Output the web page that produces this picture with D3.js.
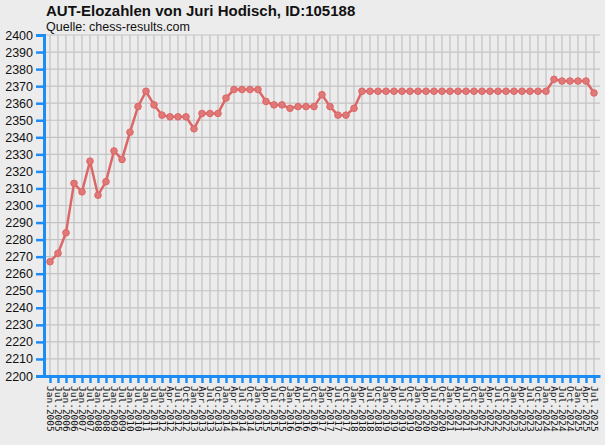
<!DOCTYPE html>
<html>
<head>
<meta charset="utf-8">
<script src="https://cdn.jsdelivr.net/npm/d3@7"></script>
<style>
  body { margin: 0; background: #ececec; }
  svg { display: block; }
</style>
</head>
<body>
<section></section>
<script>
// Monate der Elo-Listen (bis 2011 halbjährlich, dann vierteljährlich)
var monate = ["Jan.2005", "Jul.2005", "Jan.2006", "Jul.2006", "Jan.2007", "Jul.2007",
  "Jan.2008", "Jul.2008", "Jan.2009", "Jul.2009", "Jan.2010", "Jul.2010",
  "Jan.2011", "Jul.2011",
  "Jan.2012", "Apr.2012", "Jul.2012", "Oct.2012",
  "Jan.2013", "Apr.2013", "Jul.2013", "Oct.2013",
  "Jan.2014", "Apr.2014", "Jul.2014", "Oct.2014",
  "Jan.2015", "Apr.2015", "Jul.2015", "Oct.2015",
  "Jan.2016", "Apr.2016", "Jul.2016", "Oct.2016",
  "Jan.2017", "Apr.2017", "Jul.2017", "Oct.2017",
  "Jan.2018", "Apr.2018", "Jul.2018", "Oct.2018",
  "Jan.2019", "Apr.2019", "Jul.2019", "Oct.2019",
  "Jan.2020", "Apr.2020", "Jul.2020", "Oct.2020",
  "Jan.2021", "Apr.2021", "Jul.2021", "Oct.2021",
  "Jan.2022", "Apr.2022", "Jul.2022", "Oct.2022",
  "Jan.2023", "Apr.2023", "Jul.2023", "Oct.2023",
  "Jan.2024", "Apr.2024", "Jul.2024", "Oct.2024",
  "Jan.2025", "Apr.2025", "Jul.2025"]

// Elozahlen
var elo = [2267, 2272, 2284, 2313, 2308, 2326,
  2306, 2314, 2332, 2327, 2343, 2358,
  2367, 2359,
  2353, 2352, 2352, 2352,
  2345, 2354, 2354, 2354,
  2363, 2368, 2368, 2368,
  2368, 2361, 2359, 2359,
  2357, 2358, 2358, 2358,
  2365, 2358, 2353, 2353,
  2357, 2367, 2367, 2367,
  2367, 2367, 2367, 2367,
  2367, 2367, 2367, 2367,
  2367, 2367, 2367, 2367,
  2367, 2367, 2367, 2367,
  2367, 2367, 2367, 2367,
  2367, 2374, 2373, 2373,
  2373, 2373, 2366]

// Skala der y-Achse
var yTicks = d3.range(2200, 2401, 10)

var width = 605
var height = 445
var margin = { top: 35, bottom: 69, left: 44, right: 5 }

var blau = "#1e8cf5"
var rot = "#dd6666"

var lienzo = d3.select("section")
  .append("svg")
  .attr("width", width)
  .attr("height", height)

lienzo.append("rect")
  .attr("width", width)
  .attr("height", height)
  .attr("fill", "#ececec")

var x = d3.scalePoint()
  .domain(monate)
  .range([margin.left, width - margin.right])
  .padding(0.75)

var y = d3.scaleLinear()
  .domain([2200, 2400])
  .range([height - margin.bottom, margin.top])

// Gitter
lienzo.append("g")
  .selectAll("line")
  .data(yTicks)
  .join("line")
  .attr("x1", margin.left)
  .attr("x2", width - margin.right)
  .attr("y1", d => y(d))
  .attr("y2", d => y(d))
  .attr("stroke", "#c3c3c3")
  .attr("stroke-width", 1.2)

lienzo.append("g")
  .selectAll("line")
  .data(monate)
  .join("line")
  .attr("x1", d => x(d))
  .attr("x2", d => x(d))
  .attr("y1", margin.top)
  .attr("y2", height - margin.bottom)
  .attr("stroke", "#c3c3c3")
  .attr("stroke-width", 1.2)

// y-Achse
var ejeY = d3.axisLeft(y)
  .tickValues(yTicks)
  .tickSize(8)
  .tickPadding(3)
  .tickFormat(d3.format("d"))

var gY = lienzo.append("g")
  .attr("transform", "translate(" + margin.left + ",0)")
  .call(ejeY)
gY.select(".domain").attr("stroke", blau).attr("stroke-width", 3)
gY.selectAll(".tick line").attr("stroke", blau).attr("stroke-width", 2.5)
gY.selectAll(".tick text")
  .attr("fill", "#111")
  .style("font-family", "'Liberation Sans', Arial, sans-serif")
  .style("font-size", "12.5px")

// x-Achse
var ejeX = d3.axisBottom(x)
  .tickSize(7)
  .tickSizeOuter(0)
  .tickPadding(0)

var gX = lienzo.append("g")
  .attr("transform", "translate(0," + (height - margin.bottom) + ")")
  .call(ejeX)
gX.select(".domain").attr("stroke", blau).attr("stroke-width", 3)
gX.selectAll(".tick line").attr("stroke", blau).attr("stroke-width", 2.5)
gX.selectAll(".tick text")
  .attr("fill", "#111")
  .attr("transform", "rotate(90)")
  .attr("x", 10)
  .attr("y", 0)
  .attr("dy", "0.35em")
  .attr("text-anchor", "start")
  .style("font-family", "'DejaVu Sans Mono', monospace")
  .style("font-size", "9.5px")

// Linie und Punkte
var linie = d3.line()
  .x((d, i) => x(monate[i]))
  .y(d => y(d))

lienzo.append("path")
  .datum(elo)
  .attr("d", linie)
  .attr("fill", "none")
  .attr("stroke", rot)
  .attr("stroke-width", 2.5)

lienzo.append("g")
  .selectAll("circle")
  .data(elo)
  .join("circle")
  .attr("cx", (d, i) => x(monate[i]))
  .attr("cy", d => y(d))
  .attr("r", 3.3)
  .attr("fill", "#e07878")
  .attr("stroke", rot)
  .attr("stroke-width", 1)

// Titel
lienzo.append("text")
  .attr("x", 46)
  .attr("y", 16)
  .text("AUT-Elozahlen von Juri Hodisch, ID:105188")
  .style("font-family", "'Liberation Sans', Arial, sans-serif")
  .style("font-weight", "bold")
  .style("font-size", "15px")
  .attr("fill", "#111")

lienzo.append("text")
  .attr("x", 46)
  .attr("y", 31)
  .text("Quelle: chess-results.com")
  .style("font-family", "'Liberation Sans', Arial, sans-serif")
  .style("font-size", "12.5px")
  .attr("fill", "#111")
</script>
</body>
</html>
